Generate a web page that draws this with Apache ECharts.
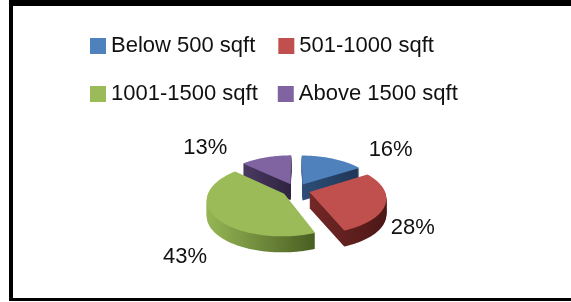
<!DOCTYPE html>
<html>
<head>
<meta charset="utf-8">
<script src="https://cdn.jsdelivr.net/npm/echarts@6/dist/echarts.min.js"></script>
<style>
  html, body { margin: 0; padding: 0; background: #fff; }
  #chart { width: 571px; height: 302px; }
</style>
</head>
<body>
<div id="chart"></div>
<script>
// data
var categories = ['Below 500 sqft', '501-1000 sqft', '1001-1500 sqft', 'Above 1500 sqft'];
var shares = [16, 28, 43, 13];

// colours (top face, side light -> dark)
var topColors = ['#4F81BD', '#C0504D', '#9BBB59', '#8064A2'];
var sideColors = [
    ['#2E4E78', '#1F3656'],
    ['#742826', '#4C1716'],
    ['#96B655', '#495E22'],
    ['#4A3A62', '#2E2340']
];

// 3d pie geometry
var CX = 296, CY = 190;
var R = 75;          // radius before projection
var TILT = 0.465;    // vertical squash
var PERSP = 0.153;   // back of the pie a bit smaller
var EXPLODE = 14;
var DEPTH = 16;
var FONT = 'Liberation Sans, Arial, sans-serif';

var total = shares.reduce(function (a, b) { return a + b; }, 0);

function project(X, Z) {
    var s = 1 / (1 + PERSP * Z / R);
    return [CX + X * s, CY - Z * TILT * s];
}

function renderSlice(params, api) {
    var i = params.seriesIndex;
    var before = 0;
    for (var j = 0; j < i; j++) before += shares[j];
    var a0 = before / total * Math.PI * 2;
    var a1 = (before + api.value(0)) / total * Math.PI * 2;
    var mid = (a0 + a1) / 2;
    var ex = EXPLODE * Math.sin(mid);
    var ez = EXPLODE * Math.cos(mid);

    var pts = [project(ex, ez)];
    var steps = Math.max(2, Math.ceil((a1 - a0) / (Math.PI / 180)));
    for (var s = 0; s <= steps; s++) {
        var a = a0 + (a1 - a0) * s / steps;
        pts.push(project(ex + R * Math.sin(a), ez + R * Math.cos(a)));
    }
    var minX = Infinity, maxX = -Infinity;
    pts.forEach(function (p) { minX = Math.min(minX, p[0]); maxX = Math.max(maxX, p[0]); });

    var sideFill = {
        type: 'linear', x: minX, y: 0, x2: maxX, y2: 0, global: true,
        colorStops: [{ offset: 0, color: sideColors[i][0] }, { offset: 1, color: sideColors[i][1] }]
    };

    // back slices first, front ones on top
    var base = Math.round((-Math.cos(mid) + 1) * 100);
    var children = [];
    for (var d = DEPTH; d >= 1; d--) {
        children.push({
            type: 'polygon',
            shape: { points: pts.map(function (p) { return [p[0], p[1] + d]; }) },
            style: { fill: sideFill },
            z2: base + (DEPTH - d)
        });
    }
    children.push({
        type: 'polygon',
        shape: { points: pts },
        style: { fill: topColors[i] },
        z2: base + DEPTH + 1
    });

    // percentage label, excel "best fit" style
    var sn = Math.sin(mid), cs = Math.cos(mid);
    var lx = CX + (sn >= 0 ? 1 : -1) * (72 + 47 * Math.abs(sn));
    var ly = cs > 0 ? CY - cs * 46 : CY + 1 - cs * 118;
    children.push({
        type: 'text',
        x: lx, y: ly,
        style: {
            text: Math.round(api.value(0) / total * 100) + '%',
            fontSize: 22, fontFamily: FONT, fill: '#111',
            align: 'center', verticalAlign: 'middle',
            textAlign: 'center', textVerticalAlign: 'middle'
        },
        z2: 1000
    });
    return { type: 'group', children: children };
}

var myChart = echarts.init(document.getElementById('chart'));

var legendBase = {
    left: 90, padding: 0, icon: 'rect', itemWidth: 16, itemHeight: 16,
    selectedMode: false,
    textStyle: { fontSize: 22, fontFamily: FONT, color: '#111' }
};

var option = {
    animation: false,
    color: topColors,
    legend: [
        Object.assign({}, legendBase, { data: categories.slice(0, 2), top: 35, itemGap: 23 }),
        Object.assign({}, legendBase, { data: categories.slice(2), top: 83, itemGap: 20 })
    ],
    graphic: [
        { type: 'rect', shape: { x: 9, y: 0, width: 562, height: 6 }, style: { fill: '#000' } },
        { type: 'rect', shape: { x: 9, y: 0, width: 4, height: 301 }, style: { fill: '#000' } },
        { type: 'rect', shape: { x: 9, y: 298, width: 562, height: 3 }, style: { fill: '#000' } }
    ],
    series: categories.map(function (name, i) {
        return {
            type: 'custom',
            name: name,
            coordinateSystem: 'none',
            silent: true,
            itemStyle: { color: topColors[i] },
            renderItem: renderSlice,
            data: [[shares[i]]]
        };
    })
};

myChart.setOption(option);
</script>
</body>
</html>
